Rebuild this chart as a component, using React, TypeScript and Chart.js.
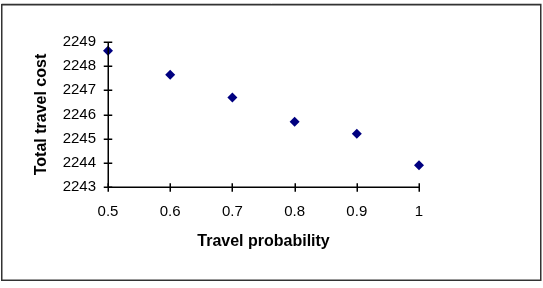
import React, { useEffect, useRef } from "react";
import { Chart, registerables } from "chart.js";

Chart.register(...registerables);

const probabilities = [0.5, 0.6, 0.7, 0.8, 0.9, 1];
const totalCost = [2248.64, 2247.64, 2246.7, 2245.7, 2245.2, 2243.9];
const xTicks = [0.5, 0.6, 0.7, 0.8, 0.9, 1];
const yTicks = [2243, 2244, 2245, 2246, 2247, 2248, 2249];

const frameAndTicks = {
  id: "frameAndTicks",
  afterDraw(chart: any) {
    const ctx = chart.ctx;
    ctx.save();
    const xs = chart.scales.x;
    const ys = chart.scales.y;
    // outer border
    ctx.strokeStyle = "#c8c8c8";
    ctx.lineWidth = 1;
    ctx.beginPath();
    ctx.moveTo(1.5, 3.5);
    ctx.lineTo(541.5, 3.5);
    ctx.stroke();
    ctx.strokeStyle = "#333333";
    ctx.lineWidth = 1.5;
    ctx.strokeRect(1.75, 4.75, 539, 275.5);
    // axis lines
    const ax = Math.round(xs.getPixelForValue(xTicks[0])) + 0.25;
    const ay = Math.round(ys.getPixelForValue(yTicks[0])) + 0.25;
    const yTop = Math.round(ys.getPixelForValue(yTicks[yTicks.length - 1]));
    const xRight = Math.round(xs.getPixelForValue(xTicks[xTicks.length - 1])) + 0.75;
    ctx.strokeStyle = "#000000";
    ctx.lineWidth = 1.5;
    ctx.beginPath();
    ctx.moveTo(ax, yTop);
    ctx.lineTo(ax, ay);
    ctx.lineTo(xRight, ay);
    ctx.stroke();
    // tick marks crossing the axes
    ctx.beginPath();
    for (const v of yTicks) {
      const y = Math.round(ys.getPixelForValue(v)) + 0.25;
      ctx.moveTo(ax - 4.5, y);
      ctx.lineTo(ax + 4, y);
    }
    for (const v of xTicks) {
      const x = Math.round(xs.getPixelForValue(v)) + 0.25;
      ctx.moveTo(x, ay - 4);
      ctx.lineTo(x, ay + 4.5);
    }
    ctx.stroke();
    ctx.restore();
  },
};

export default function App() {
  const ref = useRef<HTMLCanvasElement | null>(null);
  useEffect(() => {
    document.body.style.margin = "0";
    const canvas = ref.current!;
    const chart = new Chart(canvas, {
      type: "scatter",
      data: {
        datasets: [
          {
            data: probabilities.map((p, i) => ({ x: p, y: totalCost[i] })),
            backgroundColor: "#000080",
            borderColor: "#000080",
            pointStyle: "rectRot",
            pointRadius: 5,
            borderWidth: 0,
            clip: false,
          },
        ],
      },
      options: {
        animation: false,
        responsive: false,
        maintainAspectRatio: false,
        devicePixelRatio: 1,
        layout: { padding: { left: 24, top: 42, right: 124, bottom: 37 } },
        plugins: { legend: { display: false }, tooltip: { enabled: false } },
        scales: {
          x: {
            type: "linear",
            min: 0.5,
            max: 1,
            afterBuildTicks: (s: any) => {
              s.ticks = xTicks.map((v) => ({ value: v }));
            },
            afterFit: (s: any) => {
              s.height = 64;
            },
            grid: { display: false, drawTicks: false },
            border: { display: false },
            ticks: {
              padding: 16,
              color: "#000",
              font: { family: "Liberation Sans, Arial, sans-serif", size: 15 },
              callback: (v: any) => String(v),
            },
            title: {
              display: true,
              text: "Travel probability",
              color: "#000",
              padding: { top: 0, bottom: 0 },
              font: { family: "Liberation Sans, Arial, sans-serif", size: 16, weight: "bold" },
            },
          },
          y: {
            type: "linear",
            min: 2243,
            max: 2249,
            afterBuildTicks: (s: any) => {
              s.ticks = yTicks.map((v) => ({ value: v }));
            },
            afterFit: (s: any) => {
              s.width = 84;
            },
            grid: { display: false, drawTicks: false },
            border: { display: false },
            ticks: {
              padding: 12,
              color: "#000",
              font: { family: "Liberation Sans, Arial, sans-serif", size: 15 },
              callback: (v: any) => String(v),
            },
            title: {
              display: true,
              text: "Total travel cost",
              color: "#000",
              padding: { top: 8, bottom: 0 },
              font: { family: "Liberation Sans, Arial, sans-serif", size: 16, weight: "bold" },
            },
          },
        },
      },
      plugins: [frameAndTicks],
    } as any);
    return () => chart.destroy();
  }, []);
  return <canvas ref={ref} width={543} height={288} style={{ display: "block" }} />;
}
